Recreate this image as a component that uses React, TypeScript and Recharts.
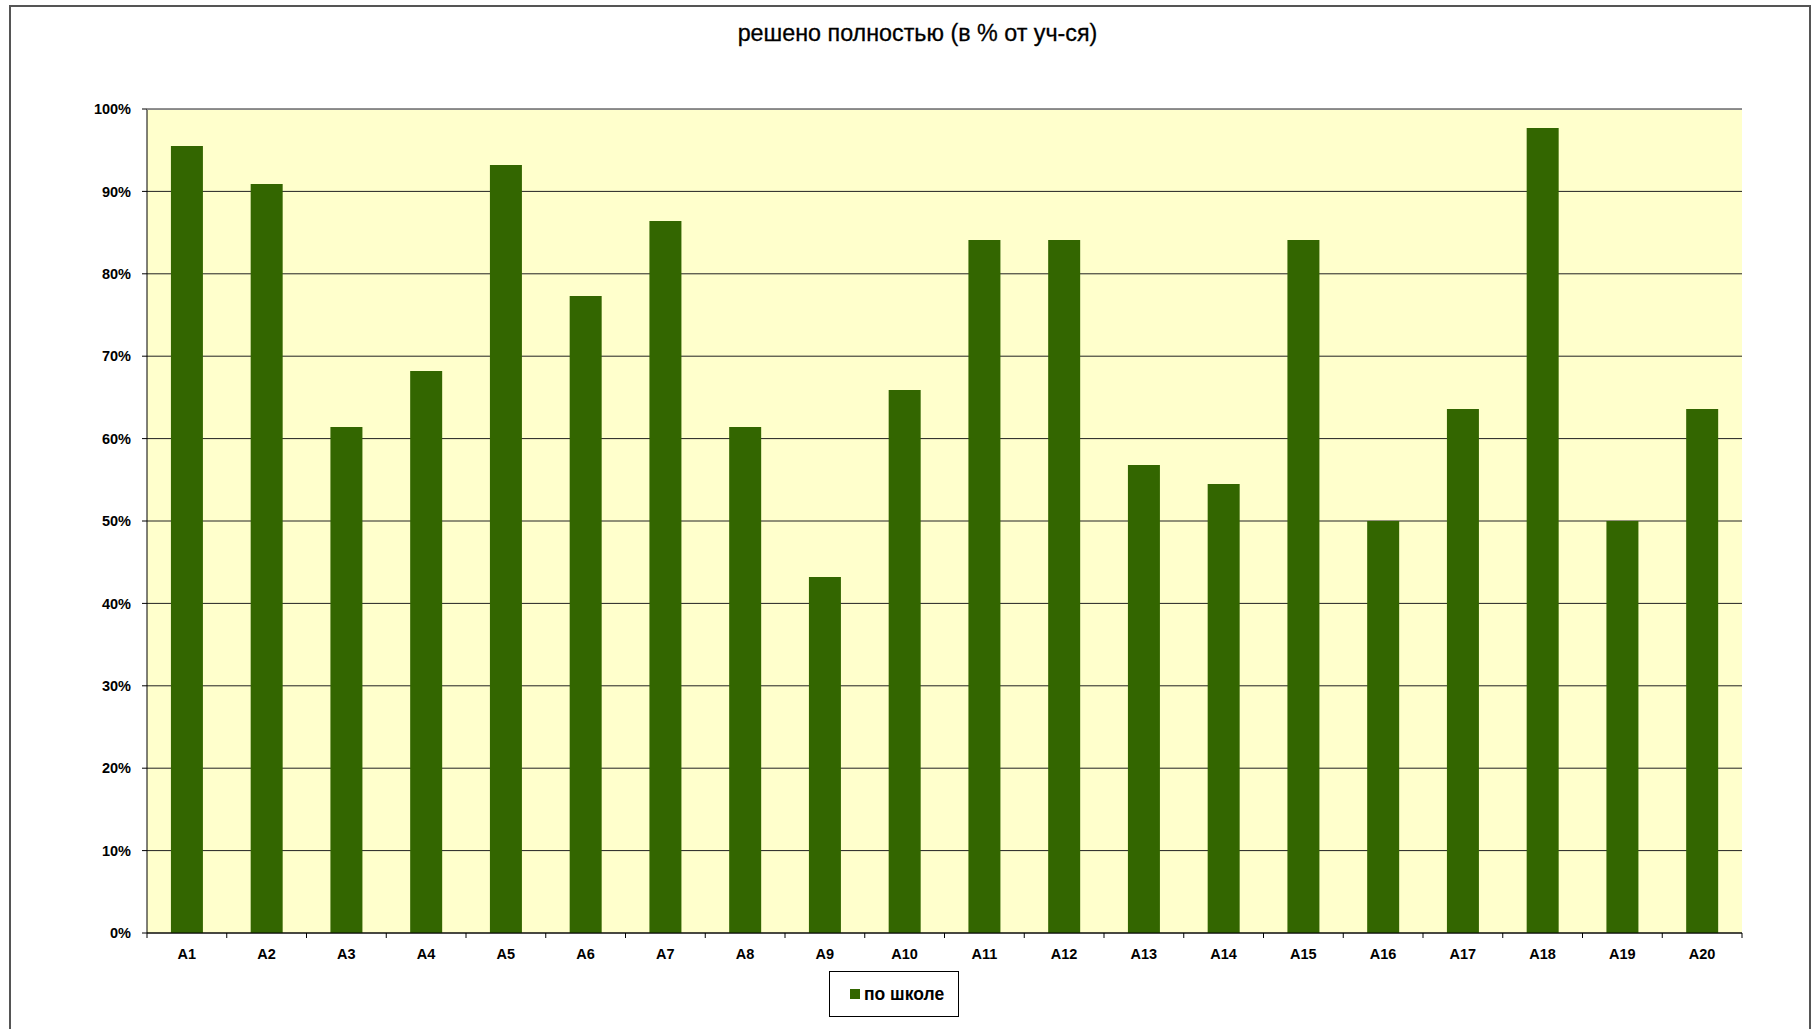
import React from "react";
import {
  BarChart,
  Bar,
  XAxis,
  YAxis,
  CartesianGrid,
  Legend,
} from "recharts";

const tasks = [
  "A1", "A2", "A3", "A4", "A5", "A6", "A7", "A8", "A9", "A10",
  "A11", "A12", "A13", "A14", "A15", "A16", "A17", "A18", "A19", "A20",
];
const schoolPct = [
  95.5, 90.9, 61.4, 68.2, 93.2, 77.3, 86.4, 61.4, 43.2, 65.9,
  84.1, 84.1, 56.8, 54.5, 84.1, 50, 63.6, 97.7, 50, 63.6,
];
const yTicks = [0, 10, 20, 30, 40, 50, 60, 70, 80, 90, 100];

const seriesName = "по школе";
const title = "решено полностью (в % от уч-ся)";

const data = tasks.map((t, i) => ({ name: t, value: schoolPct[i] }));

const FONT = "'Liberation Sans', Arial, sans-serif";
const W = 1818;
const H = 1029;
// plot area edges
const PLOT_LEFT = 147;
const PLOT_TOP = 109;
const PLOT_RIGHT = 1742;
const PLOT_BOTTOM = 933;
const BAND = (PLOT_RIGHT - PLOT_LEFT) / tasks.length;

// category ticks sit between bars, labels in the middle
const CategoryTick = (props: any) => {
  const { x, index } = props;
  const half = BAND / 2;
  return (
    <g>
      <line x1={x - half} x2={x - half} y1={PLOT_BOTTOM} y2={PLOT_BOTTOM + 5} stroke="#000" />
      {index === tasks.length - 1 && (
        <line x1={x + half} x2={x + half} y1={PLOT_BOTTOM} y2={PLOT_BOTTOM + 5} stroke="#000" />
      )}
      <text
        x={x}
        y={PLOT_BOTTOM + 26}
        textAnchor="middle"
        fontFamily={FONT}
        fontWeight="bold"
        fontSize={14.5}
        fill="#000"
      >
        {props.payload.value}
      </text>
    </g>
  );
};

const LegendBox = () => (
  <div
    style={{
      width: 130,
      height: 46,
      border: "1.5px solid #000",
      background: "#fff",
      display: "flex",
      alignItems: "center",
      boxSizing: "border-box",
      paddingLeft: 20,
      fontFamily: FONT,
      fontWeight: "bold",
      fontSize: 17.5,
      color: "#000",
    }}
  >
    <span style={{ width: 10, height: 10, background: "#336600", marginRight: 4, display: "inline-block" }} />
    {seriesName}
  </div>
);

export default function App() {
  return (
    <div style={{ position: "absolute", left: 0, top: 0, width: W, height: H, overflow: "hidden", background: "#fff" }}>
      <div
        style={{
          position: "absolute",
          left: 9,
          top: 5,
          width: 1802,
          height: 1040,
          border: "2px solid #555",
          boxSizing: "border-box",
        }}
      />
      <div
        style={{
          position: "absolute",
          left: 10,
          width: 1815,
          top: 20,
          textAlign: "center",
          fontFamily: FONT,
          fontSize: 23.3,
          color: "#000",
          WebkitTextStroke: "0.3px #000",
        }}
      >
        {title}
      </div>
      <div style={{ position: "absolute", left: 0, top: 0 }}>
        <BarChart
          width={W}
          height={H}
          data={data}
          margin={{ top: PLOT_TOP, right: W - PLOT_RIGHT, bottom: 0, left: 0 }}
          barCategoryGap="30%"
        >
          <CartesianGrid vertical={false} stroke="#222" fill="#FFFFCC" fillOpacity={1} />
          <XAxis
            dataKey="name"
            height={H - PLOT_BOTTOM}
            axisLine={{ stroke: "#000" }}
            tickLine={false}
            tick={<CategoryTick />}
            interval={0}
          />
          <YAxis
            width={PLOT_LEFT}
            domain={[0, 100]}
            ticks={yTicks}
            interval={0}
            tickFormatter={(v) => `${v}%`}
            axisLine={{ stroke: "#000" }}
            tickLine={{ stroke: "#000" }}
            tickSize={5}
            tickMargin={11}
            tick={{ fill: "#000", fontFamily: FONT, fontWeight: "bold", fontSize: 14.5 }}
          />
          <YAxis
            yAxisId="frame"
            orientation="right"
            width={0}
            domain={[0, 100]}
            tick={false}
            tickLine={false}
            axisLine={{ stroke: "#888" }}
          />
          <Legend
            layout="horizontal"
            verticalAlign="middle"
            align="center"
            wrapperStyle={{ left: 829, top: 971, width: 130, height: 46 }}
            content={() => <LegendBox />}
          />
          <Bar dataKey="value" name={seriesName} fill="#336600" isAnimationActive={false} />
        </BarChart>
      </div>
      <div
        style={{
          position: "absolute",
          left: PLOT_LEFT,
          top: PLOT_TOP,
          width: PLOT_RIGHT - PLOT_LEFT,
          height: 1,
          background: "#888",
        }}
      />
    </div>
  );
}
